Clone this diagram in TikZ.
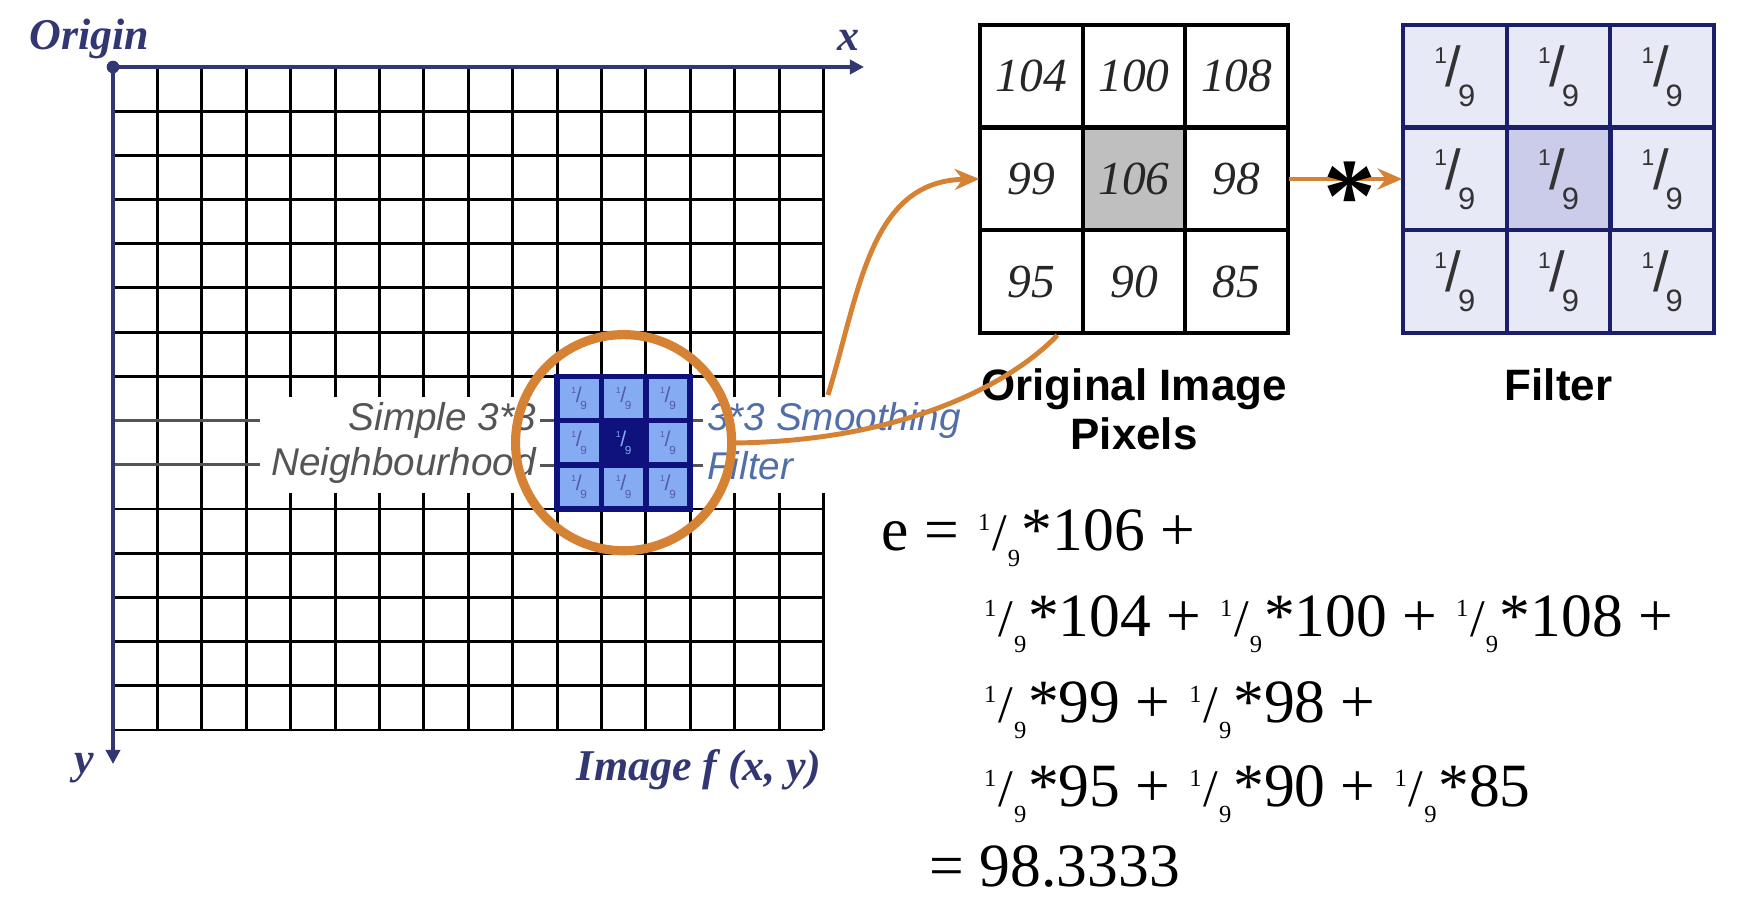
\documentclass[tikz,border=0pt]{standalone}
\usepackage{fontspec}
\setmainfont{Liberation Serif}
\setsansfont{Liberation Sans}
\usepackage{graphicx}
\usepackage{tikz}
\usetikzlibrary{arrows.meta, positioning, calc}
\definecolor{axisnavy}{RGB}{50,55,115}
\definecolor{kernnavy}{RGB}{15,18,125}
\definecolor{kernblue}{RGB}{133,171,242}
\definecolor{ringorange}{RGB}{214,130,52}
\definecolor{filtfill}{RGB}{231,233,247}
\definecolor{filtmid}{RGB}{202,204,234}
\definecolor{filtline}{RGB}{27,31,107}
\definecolor{tagblue}{RGB}{80,110,170}
\definecolor{taggray}{RGB}{85,85,85}

\newcommand{\ninth}{{\fontsize{6.5pt}{6.5pt}\selectfont\raisebox{6.6pt}{1}}\kern-0.3pt{\fontsize{16pt}{16pt}\selectfont/}\kern-1pt{\fontsize{8.8pt}{8.8pt}\selectfont\raisebox{-5.7pt}{9}}}
\newcommand{\eqninth}{\kern1pt{\fontsize{7pt}{7pt}\selectfont\raisebox{5.8pt}{1}}\kern0.5pt{\fontsize{15pt}{15pt}\selectfont/}\kern0.3pt{\fontsize{7pt}{7pt}\selectfont\raisebox{-4.3pt}{9}}\kern0.5pt}

\begin{document}
\begin{tikzpicture}[x=0.01cm, y=-0.01cm,
  gridline/.style={line width=0.85pt, black},
  axis/.style={line width=1.4pt, axisnavy, -{Triangle[length=4pt, width=4pt]}},
  kcell/.style={draw=kernnavy, fill=kernblue, line width=1.6pt, minimum width=0.444cm, minimum height=0.442cm, inner sep=0pt, font=\sffamily, text=kernnavy!70},
  pcell/.style={draw, line width=1.2pt, minimum width=1.027cm, minimum height=1.027cm, inner sep=0pt, font=\itshape\fontsize{13.5pt}{14pt}\selectfont, text=black!85},
  fcell/.style={draw=filtline, line width=1.2pt, minimum width=1.037cm, minimum height=1.027cm, inner sep=0pt, font=\sffamily, text=black!80},
  ring/.style={circle, draw=ringorange, line width=2.6pt, minimum size=2.16cm, inner sep=0pt},
  arr/.style={-{Stealth[length=7pt, width=6pt]}, ringorange, line width=1.4pt},
  link/.style={ringorange, line width=1.4pt},
  tagl/.style={font=\sffamily\itshape\fontsize{11pt}{12pt}\selectfont, text=taggray, inner sep=1pt},
  tagr/.style={font=\sffamily\itshape\fontsize{11pt}{12pt}\selectfont, text=tagblue, inner sep=1pt},
  axlabel/.style={font=\bfseries\itshape\fontsize{12.5pt}{13pt}\selectfont, text=axisnavy, inner sep=0pt},
  caption/.style={font=\sffamily\bfseries\fontsize{12.5pt}{14pt}\selectfont, align=center, inner sep=0pt},
  eqn/.style={font=\fontsize{17.5pt}{19pt}\selectfont, inner sep=0pt, anchor=base west}
]
  \useasboundingbox (0,0) rectangle (1740,898);

  % Image grid
  \foreach \i in {1,2,3}
    \draw[gridline] ({113+44.4*\i},67) -- ({113+44.4*\i},730);
  \foreach \i in {4,...,16} {
    \draw[gridline] ({113+44.4*\i},67) -- ({113+44.4*\i},397);
    \draw[gridline] ({113+44.4*\i},493) -- ({113+44.4*\i},730);
  }
  \foreach \j in {1,2,3,4,5,6,7,10,11,12,13,14,15}
    \draw[gridline] (113,{67+44.2*\j}) -- (823,{67+44.2*\j});
  \foreach \j in {8,9}
    \draw[gridline, taggray] (113,{67+44.2*\j}) -- (260,{67+44.2*\j});

  % Axes
  \coordinate (origin) at (113,67);
  \coordinate (xend) at (864,67);
  \coordinate (yend) at (113,764);
  \draw[axis] (origin) -- (xend);
  \draw[axis] (origin) -- (yend);
  \fill[axisnavy] (origin) circle (1.8pt);
  \node[axlabel, anchor=base west] (orglbl) at (29,50) {Origin};
  \node[axlabel] (xlbl) at (848,40) {x};
  \node[axlabel] (ylbl) at (84,768) {y};
  \node[axlabel] (imglbl) at (699,770) {Image f (x, y)};

  % Kernel on the grid
  \foreach \r in {0,1,2}
    \foreach \c in {0,1,2}
      \node[kcell] (k\r\c) at ({579.2+44.4*\c},{398.5+44.2*\r}) {\scalebox{0.38}{\ninth}};
  \node[kcell, fill=kernnavy, text=kernblue] (k11) at (623.6,442.7) {\scalebox{0.38}{\ninth}};

  % Labels
  \node[tagl, anchor=east] (simple) at (540,421) {Simple 3*3};
  \node[tagl, anchor=east] (neigh) at (540,466) {Neighbourhood};
  \node[tagr, anchor=west] (smooth) at (703,421) {3*3 Smoothing};
  \node[tagr, anchor=west] (filtag) at (703,466) {Filter};
  \draw[gridline, taggray] (simple.east) -- (simple.east -| k00.west);
  \draw[gridline, taggray] (neigh.east) -- (neigh.east -| k00.west);
  \draw[gridline, taggray] (smooth.west) -- (smooth.west -| k02.east);
  \draw[gridline, taggray] (filtag.west) -- (filtag.west -| k02.east);

  % Original pixels
  \node[minimum width=3.08cm, minimum height=3.08cm, inner sep=0pt] (orig) at (1134.1,179) {};
  \foreach \v/\f [count=\k from 0] in {104/white,100/white,108/white,99/white,106/black!25,98/white,95/white,90/white,85/white} {
    \pgfmathtruncatemacro{\r}{\k/3}
    \pgfmathtruncatemacro{\c}{mod(\k,3)}
    \node[pcell, fill=\f] (p\r\c) at ({1031.3+102.7*\c},{76.3+102.7*\r}) {\v};
  }
  \node[caption, below=0.34cm of orig] (origcap) {Original Image\\Pixels};

  % Filter
  \node[minimum width=3.11cm, minimum height=3.08cm, inner sep=0pt] (filt) at (1558.5,179) {};
  \foreach \r in {0,1,2}
    \foreach \c in {0,1,2}
      \node[fcell, fill=filtfill] (f\r\c) at ({1454.8+103.7*\c},{76.3+102.7*\r}) {\ninth};
  \node[fcell, fill=filtmid] (f11) at (1558.5,179) {\ninth};
  \node[caption, below=0.34cm of filt] (filtcap) {Filter};

  % Connectors
  \coordinate (tail) at (828,395);
  \coordinate (foot) at ($(p20.south)+(26,0)$);
  \draw[arr] (tail) .. controls (860,290) and (870,181) .. (orig.west);
  \draw[link] (731,443) .. controls (900,442) and (1010,385) .. (foot);
  \draw[arr] (orig.east) -- (filt.west);
  \node[font=\bfseries\fontsize{30pt}{30pt}\selectfont, inner sep=0pt] (convsign) at (1350,197) {*};

  % Ring
  \node[ring] (ring) at (k11) {};

  % Sum
  \node[eqn] (eq1) at (881,551) {e = \eqninth*106 +};
  \node[eqn] (eq2) at (980,637) {\eqninth*104 + \eqninth*100 + \eqninth*108 +};
  \node[eqn] (eq3) at (980,723) {\eqninth*99 + \eqninth*98 +};
  \node[eqn] (eq4) at (980,807) {\eqninth*95 + \eqninth*90 + \eqninth*85};
  \node[eqn] (eq5) at (929,886) {= 98.3333};
\end{tikzpicture}
\end{document}
